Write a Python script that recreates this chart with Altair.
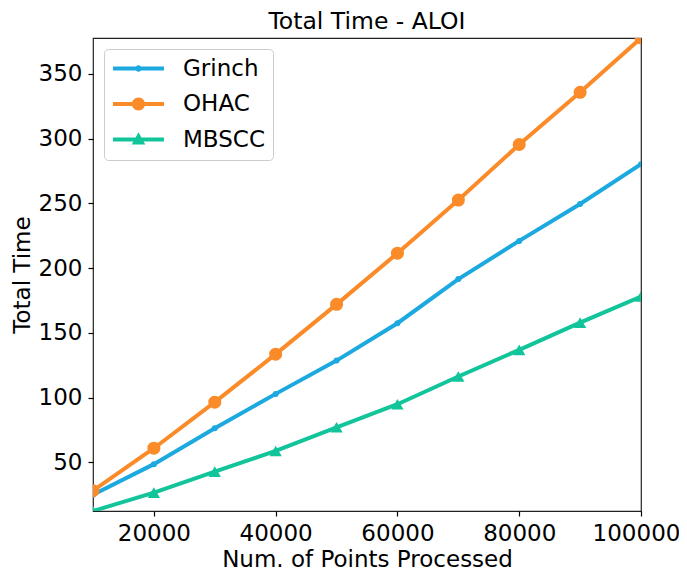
import altair as alt
import pandas as pd

points = [10000, 20000, 30000, 40000, 50000, 60000, 70000, 80000, 90000, 100000]
grinch = [24.8, 48.5, 76.3, 102.8, 128.5, 157.4, 191.5, 221.0, 249.5, 280.3]
ohac = [28.0, 60.8, 96.4, 133.5, 172.0, 211.5, 252.6, 295.5, 335.8, 377.8]
mbscc = [12.3, 26.5, 42.7, 58.7, 77.0, 94.8, 116.2, 136.8, 157.9, 178.0]

series_names = ["Grinch", "OHAC", "MBSCC"]
series_colors = ["#1BA9DF", "#FA8B28", "#12C49A"]
x_ticks = [20000, 40000, 60000, 80000, 100000]
y_ticks = [50, 100, 150, 200, 250, 300, 350]

rows = []
for name, vals in zip(series_names, [grinch, ohac, mbscc]):
    for p, v in zip(points, vals):
        rows.append({"points": p, "time": v, "series": name})
df = pd.DataFrame(rows)

FONT = "DejaVu Sans"

x_enc = alt.X("points:Q", title="Num. of Points Processed",
              scale=alt.Scale(zero=False, nice=False),
              axis=alt.Axis(values=x_ticks, format="d", labelFlush=False, labelOverlap=False,
                            labelOffset={"condition": {"test": "datum.value >= 100000", "value": -5},
                                         "value": 0}))
y_enc = alt.Y("time:Q", title="Total Time",
              scale=alt.Scale(zero=False, nice=False),
              axis=alt.Axis(values=y_ticks, labelOverlap=False))

# legend symbol paths: line segment + marker (10 px per unit at symbolSize 400)
legend_paths = [
    "M-2.55,-0.2H2.55V0.2H-2.55Z M-0.32,0A0.32,0.32 0 1,1 0.32,0A0.32,0.32 0 1,1 -0.32,0Z",
    "M-2.55,-0.2H2.55V0.2H-2.55Z M-0.65,0A0.65,0.65 0 1,1 0.65,0A0.65,0.65 0 1,1 -0.65,0Z",
    "M-2.55,-0.2H2.55V0.2H-2.55Z M0,-0.72L0.68,0.5L-0.68,0.5Z",
]

marker_shapes = ["circle", "circle", "triangle-up"]
marker_sizes = [36, 170, 150]

layers = []
for name, col, shape, size in zip(series_names, series_colors, marker_shapes, marker_sizes):
    base = alt.Chart(df).transform_filter(alt.datum.series == name)
    layers.append(base.mark_line(strokeWidth=4, clip=True, color=col).encode(x=x_enc, y=y_enc))
    layers.append(base.mark_point(filled=True, opacity=1, shape=shape, size=size,
                                  clip=True, color=col).encode(x=x_enc, y=y_enc))

legend_layer = alt.Chart(df).mark_point(filled=True, size=0, opacity=1).encode(
    x=x_enc, y=y_enc,
    color=alt.Color("series:N", scale=alt.Scale(domain=series_names, range=series_colors),
                    legend=alt.Legend(title=None, orient="top-left")),
    shape=alt.Shape("series:N", scale=alt.Scale(domain=series_names, range=legend_paths),
                    legend=alt.Legend(title=None, orient="top-left")),
)

chart = alt.layer(*layers, legend_layer).properties(
    width=548, height=473,
    title=alt.Title("Total Time - ALOI", fontSize=23.5, font=FONT, fontWeight="normal",
                    color="black", offset=5),
    autosize=alt.AutoSizeParams(type="none"),
    padding={"left": 85, "top": 30, "right": 38, "bottom": 58},
).configure_view(
    stroke="#222222", strokeWidth=1.2
).configure_axis(
    grid=False, domain=False, tickColor="black", tickSize=5, tickWidth=1.2,
    labelFont=FONT, labelFontSize=23, labelColor="black", labelPadding=6,
    titleFont=FONT, titleFontSize=23, titleColor="black", titleFontWeight="normal",
).configure_axisX(titlePadding=3).configure_axisY(titlePadding=4).configure_legend(
    labelFont=FONT, labelFontSize=23, labelColor="black",
    symbolSize=400, symbolOpacity=1, symbolStrokeWidth=0,
    labelOffset=33, symbolOffset=15, rowPadding=11.5,
    padding=8, offset=11,
    strokeColor="#cccccc", fillColor="white", cornerRadius=4,
)

chart.save("out.html", embed_options={"renderer": "svg", "actions": False})
